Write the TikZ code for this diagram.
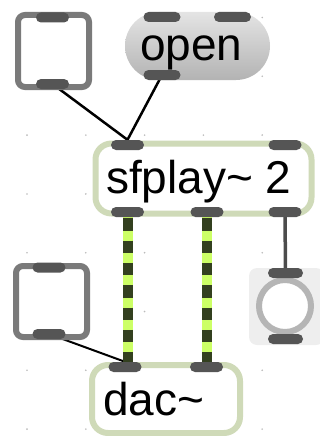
\documentclass[tikz,border=0pt]{standalone}
\usepackage{fontspec}
\setmainfont{Liberation Sans}
\pgfdeclarelayer{dots}
\pgfdeclarelayer{lines}
\pgfsetlayers{dots,lines,main}
\definecolor{togglegray}{HTML}{7A7A7A}
\definecolor{tabgray}{HTML}{555555}
\definecolor{objgreen}{HTML}{CFDAB8}
\definecolor{sigyellow}{HTML}{CCFF66}
\definecolor{sigdark}{HTML}{33401F}
\definecolor{dotgray}{HTML}{BBBBBB}
\definecolor{btnbg}{HTML}{EEEEEE}
\definecolor{btnring}{HTML}{B5B5B5}
\definecolor{msgtop}{HTML}{E4E4E4}
\definecolor{msgbot}{HTML}{B3B3B3}
\begin{document}
\begin{tikzpicture}[x=1pt,y=-1pt,
  boxbase/.style={draw, line width=6pt, fill=white, inner sep=0pt},
  togglebox/.style={boxbase, draw=togglegray, rounded corners=7pt, minimum width=71pt, minimum height=72pt},
  objbox/.style={boxbase, draw=objgreen, rounded corners=16pt},
  tabbox/.style={fill=tabgray, minimum width=33pt, minimum height=10pt, inner sep=0pt, rounded corners=5pt},
  txt/.style={font=\fontsize{46}{54}\selectfont, inner sep=0pt, anchor=base west},
  cord/.style={line width=2.5pt, black, line cap=round},
  sigbg/.style={line width=10pt, sigyellow},
  sigfg/.style={line width=10pt, sigdark, dash pattern=on 12.3pt off 10pt, dash phase=16pt},
  ctlcord/.style={line width=3.5pt, tabgray!90!black}
]
\useasboundingbox (0,0) rectangle (320,436);
% grid dots
\begin{pgfonlayer}{dots}
\foreach \i in {0,...,5}{
  \foreach \j in {0,...,7}{
    \fill[dotgray] (27+58.8*\i, 17.5+58.8*\j) circle (0.9pt);
  }
}
\end{pgfonlayer}

% top-left toggle
\node[togglebox] (tog1) at (53.5,51) {};
\node[tabbox] (tog1in) at (52.5,17.5) {};
\node[tabbox] (tog1out) at (52.5,84) {};

% open message
\node[minimum width=145pt, minimum height=68pt, rounded corners=34pt, inner sep=0pt,
      top color=msgtop, bottom color=msgbot] (openmsg) at (197.5,46) {};
\node[txt] (opentxt) at (140,60) {open};
\node[tabbox, minimum width=37pt] (openin1) at (162,17) {};
\node[tabbox, minimum width=37pt] (openin2) at (232.5,17) {};
\node[tabbox, minimum width=37pt] (openout) at (162,75) {};

% sfplay~ 2
\node[objbox, minimum width=216pt, minimum height=70pt] (sfplay) at (203.5,178.5) {};
\node[txt] (sftxt) at (106,193) {sfplay\textasciitilde\ 2};
\node[tabbox] (sfin1) at (127.5,145) {};
\node[tabbox] (sfin2) at (285,145) {};
\node[tabbox] (sfout1) at (127.5,212) {};
\node[tabbox] (sfout2) at (207,212) {};
\node[tabbox] (sfout3) at (285,212) {};

% bottom-left toggle
\node[togglebox, minimum height=71pt] (tog2) at (51.5,301.5) {};
\node[tabbox] (tog2in) at (49,267.5) {};
\node[tabbox] (tog2out) at (49,334) {};

% button
\node[fill=btnbg, minimum width=75pt, minimum height=77pt, rounded corners=8pt, inner sep=0pt] (btnbg) at (286.5,306.5) {};
\node[circle, draw=btnring, line width=6pt, fill=white, minimum size=52pt, inner sep=0pt] (btn) at (285,306) {};
\node[tabbox, minimum width=35pt] (btnin) at (285.5,273) {};
\node[tabbox, minimum width=35pt] (btnout) at (285.5,339) {};

% dac~
\node[objbox, minimum width=148pt, minimum height=68pt] (dac) at (166,399) {};
\node[txt] (dactxt) at (103,415) {dac\textasciitilde};
\node[tabbox] (dacin1) at (125,367) {};
\node[tabbox] (dacin2) at (206.5,367) {};

% connections
\begin{pgfonlayer}{lines}
\draw[cord] (tog1out.center) -- (sfin1.north);
\draw[cord] (openout.center) -- (sfin1.north);
\draw[cord, line width=2pt] (tog2out.center) -- (dacin1.north);
\draw[ctlcord] (sfout3.center) -- (btnin.center);
\draw[sigbg] (sfout1.center) -- (sfout1.center |- dacin1.center);
\draw[sigfg] (sfout1.center) -- (sfout1.center |- dacin1.center);
\draw[sigbg] (sfout2.center) -- (sfout2.center |- dacin2.center);
\draw[sigfg] (sfout2.center) -- (sfout2.center |- dacin2.center);
\end{pgfonlayer}
\end{tikzpicture}
\end{document}
